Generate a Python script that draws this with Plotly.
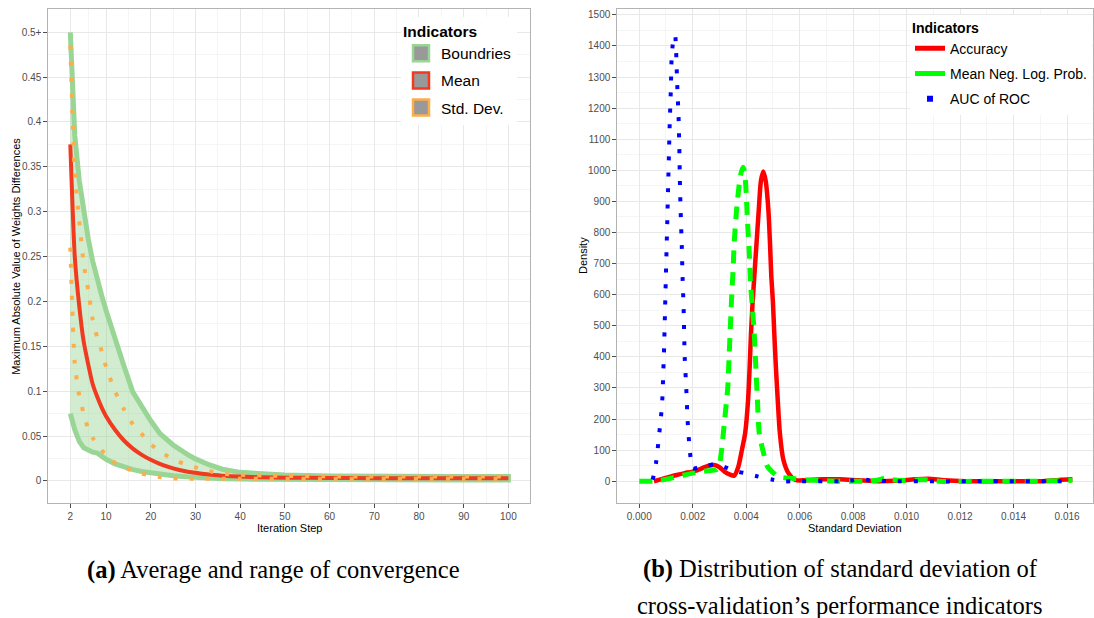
import plotly.graph_objects as go

# ---------------- Panel (a): convergence ----------------
steps = [2, 3, 4, 5, 6, 7, 8, 9, 10, 12, 14, 16, 18, 20, 22, 25, 28, 30, 33, 36, 40, 45, 50, 60, 70, 80, 90, 100]
upper = [0.500, 0.385, 0.335, 0.300, 0.270, 0.245, 0.224, 0.207, 0.190, 0.158, 0.128, 0.099, 0.082, 0.067, 0.053,
         0.040, 0.030, 0.0245, 0.018, 0.013, 0.0095, 0.0075, 0.0065, 0.0055, 0.005, 0.005, 0.005, 0.005]
lower = [0.075, 0.057, 0.044, 0.037, 0.034, 0.032, 0.031, 0.027, 0.024, 0.019, 0.0155, 0.0125, 0.0105, 0.009, 0.0075,
         0.0058, 0.0045, 0.004, 0.003, 0.0025, 0.002, 0.0015, 0.0012, 0.001, 0.001, 0.001, 0.001, 0.001]
mean = [0.375, 0.250, 0.195, 0.155, 0.130, 0.108, 0.094, 0.082, 0.072, 0.057, 0.045, 0.036, 0.029, 0.0235, 0.019,
        0.014, 0.0105, 0.009, 0.007, 0.0058, 0.0048, 0.004, 0.0036, 0.0033, 0.003, 0.003, 0.003, 0.003]
sd_hi = [0.485, 0.344, 0.290, 0.242, 0.213, 0.180, 0.160, 0.145, 0.127, 0.100, 0.080, 0.063, 0.052, 0.041, 0.033,
         0.024, 0.018, 0.015, 0.011, 0.008, 0.0068, 0.006, 0.0055, 0.005, 0.005, 0.005, 0.005, 0.005]
sd_lo = [0.260, 0.131, 0.095, 0.075, 0.058, 0.048, 0.040, 0.034, 0.029, 0.020, 0.015, 0.011, 0.008, 0.006, 0.0042,
         0.0028, 0.0025, 0.0025, 0.0025, 0.0025, 0.0025, 0.0025, 0.0025, 0.0025, 0.0025, 0.0025, 0.0025, 0.0025]
a_xticks = [2, 10, 20, 30, 40, 50, 60, 70, 80, 90, 100]
a_xminor = [6, 15, 25, 35, 45, 55, 65, 75, 85, 95]
a_yticks = [0, 0.05, 0.1, 0.15, 0.2, 0.25, 0.3, 0.35, 0.4, 0.45, 0.5]
a_ytext = ["0", "0.05", "0.1", "0.15", "0.2", "0.25", "0.3", "0.35", "0.4", "0.45", "0.5+"]
a_yminor = [0.025, 0.075, 0.125, 0.175, 0.225, 0.275, 0.325, 0.375, 0.425, 0.475]
a_names = ["Boundries", "Mean", "Std. Dev."]

# ---------------- Panel (b): densities ----------------
acc_x = [0.00055, 0.0008, 0.0011, 0.0014, 0.0017, 0.0020, 0.0023, 0.0026, 0.0028, 0.0030, 0.0032, 0.0034, 0.00355,
         0.0037, 0.00384, 0.00396, 0.00407, 0.00413, 0.00418, 0.00424, 0.00432, 0.00439, 0.00447, 0.00455, 0.00464,
         0.00473, 0.00483, 0.00489, 0.00494, 0.0050, 0.00505, 0.00511, 0.00518, 0.00526, 0.00539, 0.00558, 0.00584,
         0.0062, 0.0068, 0.0075, 0.0082, 0.0090, 0.0097, 0.0103, 0.0108, 0.0114, 0.0122, 0.0135, 0.0150, 0.0157, 0.0162]
acc_y = [0, 6, 13, 20, 26, 31, 40, 50, 52, 45, 30, 21, 18,
         45, 101, 154, 261, 368, 476, 575, 680, 770, 872, 965, 996,
         965, 872, 765, 658, 575, 476, 368, 261, 154, 69, 26, 4,
         3, 6, 6, 3, 0, 2, 6, 8, 3, 0, 0, 0, 4, 6]

mnlp_x = [0.0, 0.0005, 0.0008, 0.0012, 0.0016, 0.0020, 0.0024, 0.0027, 0.0029, 0.0030, 0.00308, 0.00318, 0.00325,
          0.00331, 0.00336, 0.00341, 0.00346, 0.00351, 0.00355, 0.00364, 0.0037, 0.00379, 0.00388, 0.00394, 0.00399,
          0.00405, 0.00412, 0.00416, 0.00423, 0.0043, 0.00436, 0.00442, 0.00449, 0.00465, 0.0048, 0.0052, 0.0056,
          0.0062, 0.0068, 0.0075, 0.0085, 0.0089, 0.0092, 0.0095, 0.0099, 0.0104, 0.0107, 0.0112, 0.0130, 0.0150, 0.0162]
mnlp_y = [0, 0, 3, 10, 18, 26, 32, 35, 38, 55, 100, 185, 245,
          300, 400, 500, 600, 680, 765, 872, 925, 985, 1010, 995, 941,
          834, 726, 640, 560, 476, 368, 261, 154, 90, 47, 15, 10,
          5, 2, 0, 0, 3, 10, 5, 2, 4, 5, 0, 0, 0, 3]

auc_x = [0.0005, 0.00054, 0.00063, 0.00071, 0.00077, 0.00083, 0.00087, 0.00089, 0.00091, 0.00093, 0.00096, 0.00099,
         0.00102, 0.00105, 0.00108, 0.00111, 0.00114, 0.00118, 0.00121, 0.00127, 0.00134, 0.00138, 0.00142, 0.00147,
         0.0015, 0.00152, 0.00155, 0.00159, 0.00162, 0.00166, 0.0017, 0.00176, 0.00181, 0.0019, 0.002, 0.00225, 0.0025,
         0.0028, 0.0030, 0.0033, 0.00355, 0.0039, 0.00412, 0.0044, 0.00471, 0.0050, 0.0053, 0.0060, 0.0075, 0.0080,
         0.00826, 0.0086, 0.0095, 0.0120, 0.0161]
auc_y = [5, 18, 60, 120, 171, 223, 274, 326, 377, 429, 532, 636,
         739, 841, 944, 1048, 1151, 1254, 1357, 1415, 1435, 1380, 1277, 1174,
         1071, 968, 865, 761, 658, 555, 401, 298, 195, 92, 42, 44, 48,
         55, 53, 42, 33, 27, 22, 16, 10, 5, 0, 0, 0, 3,
         8, 3, 0, 0, 0]
b_xticks = [0.000, 0.002, 0.004, 0.006, 0.008, 0.010, 0.012, 0.014, 0.016]
b_xminor = [0.001, 0.003, 0.005, 0.007, 0.009, 0.011, 0.013, 0.015]
b_yticks = list(range(0, 1501, 100))
b_yminor = list(range(50, 1501, 100))
b_names = ["Accuracy", "Mean Neg. Log. Prob.", "AUC of ROC"]

# ---------------- styling ----------------
GREEN_A = "#99d594"
GREEN_FILL = "rgba(153,213,148,0.45)"
RED_A = "#f03b20"
ORANGE_A = "#fdae4b"
SANS = "Liberation Sans, Arial, sans-serif"
TICKFONT = dict(family=SANS, size=10, color="#4d4d4d")

fig = go.Figure()

# Panel (a) traces
fig.add_trace(go.Scatter(
    x=steps + steps[::-1], y=upper + lower[::-1], mode="lines", fill="toself",
    fillcolor=GREEN_FILL, line=dict(color=GREEN_A, width=5), showlegend=False,
    xaxis="x", yaxis="y", hoverinfo="skip"))
fig.add_trace(go.Scatter(x=steps, y=mean, mode="lines", line=dict(color=RED_A, width=4, shape="spline", smoothing=0.6),
                         showlegend=False, xaxis="x", yaxis="y"))
for sd in (sd_hi, sd_lo):
    fig.add_trace(go.Scatter(x=steps, y=sd, mode="lines",
                             line=dict(color=ORANGE_A, width=4, dash="4px,12px", shape="spline", smoothing=0.6),
                             showlegend=False, xaxis="x", yaxis="y"))
# legend keys for (a)
for name, col in zip(a_names, [GREEN_A, RED_A, ORANGE_A]):
    fig.add_trace(go.Scatter(x=[None], y=[None], mode="markers", name=name,
                             marker=dict(symbol="square", size=16, color="#999999", line=dict(color=col, width=2.5)),
                             legend="legend", legendgroup=name, xaxis="x", yaxis="y"))

# Panel (b) traces
fig.add_trace(go.Scatter(x=acc_x, y=acc_y, mode="lines",
                         line=dict(color="#ff0000", width=4.5, shape="spline", smoothing=0.7),
                         showlegend=False, xaxis="x2", yaxis="y2"))
fig.add_trace(go.Scatter(x=mnlp_x, y=mnlp_y, mode="lines",
                         line=dict(color="#00ff00", width=5, dash="13px,9px", shape="spline", smoothing=0.7),
                         showlegend=False, xaxis="x2", yaxis="y2"))
fig.add_trace(go.Scatter(x=auc_x, y=auc_y, mode="lines",
                         line=dict(color="#0000ff", width=4, dash="4px,12px", shape="spline", smoothing=0.7),
                         showlegend=False, xaxis="x2", yaxis="y2"))
# legend keys for (b)
fig.add_trace(go.Scatter(x=[None], y=[None], mode="lines", name=b_names[0], line=dict(color="#ff0000", width=5),
                         legend="legend2", legendgroup="b1", xaxis="x2", yaxis="y2"))
fig.add_trace(go.Scatter(x=[None], y=[None], mode="lines", name=b_names[1], line=dict(color="#00ff00", width=5),
                         legend="legend2", legendgroup="b2", xaxis="x2", yaxis="y2"))
fig.add_trace(go.Scatter(x=[None], y=[None], mode="markers", name=b_names[2],
                         marker=dict(symbol="square", size=6, color="#0000ff"),
                         legend="legend2", legendgroup="b3", xaxis="x2", yaxis="y2"))

W, H = 1094, 618
def px(x):
    return x / W
def py(y):
    return 1 - y / H

ydom = [py(503.3), py(9.3)]
common = dict(showline=True, mirror=True, linecolor="#b3b3b3", linewidth=1, ticks="outside", ticklen=4,
              tickcolor="#4d4d4d", tickwidth=1, showgrid=True, gridcolor="#e8e8e8", gridwidth=1, zeroline=False,
              tickfont=TICKFONT)

fig.update_layout(
    width=W, height=H, margin=dict(l=0, r=0, t=0, b=0),
    paper_bgcolor="white", plot_bgcolor="white",
    xaxis=dict(domain=[px(48.4), px(530.3)], range=[-2.9, 104.9], tickmode="array", tickvals=a_xticks,
               minor=dict(tickmode="array", tickvals=a_xminor, showgrid=True, gridcolor="#f5f5f5", ticks=""),
               anchor="y", **common),
    yaxis=dict(domain=ydom, range=[-0.025, 0.5256], tickmode="array", tickvals=a_yticks, ticktext=a_ytext,
               minor=dict(tickmode="array", tickvals=a_yminor, showgrid=True, gridcolor="#f5f5f5", ticks=""),
               anchor="x", **common),
    xaxis2=dict(domain=[px(617.3), px(1093.3)], range=[-0.00082, 0.01698], tickmode="array", tickvals=b_xticks,
                tickformat=".3f",
                minor=dict(tickmode="array", tickvals=b_xminor, showgrid=True, gridcolor="#f5f5f5", ticks=""),
                anchor="y2", **common),
    yaxis2=dict(domain=ydom, range=[-71, 1518], tickmode="array", tickvals=b_yticks,
                minor=dict(tickmode="array", tickvals=b_yminor, showgrid=True, gridcolor="#f5f5f5", ticks=""),
                anchor="x2", **common),
    legend=dict(x=px(401), y=py(16.5), xanchor="left", yanchor="top", bgcolor="white", borderwidth=0,
                title=dict(text="<b>Indicators</b>", font=dict(size=15.5, color="black")),
                font=dict(family=SANS, size=15.5, color="black"),
                traceorder="grouped", tracegroupgap=4, itemwidth=30),
    legend2=dict(x=px(910), y=py(14.5), xanchor="left", yanchor="top", bgcolor="white", borderwidth=0,
                 title=dict(text="<b>Indicators</b>", font=dict(size=14, color="black")),
                 font=dict(family=SANS, size=14, color="black"),
                 traceorder="grouped", tracegroupgap=4, itemwidth=30),
    font=dict(family=SANS),
)

AXT = dict(family=SANS, size=11, color="black")
SERIF = dict(family="Liberation Serif, Times New Roman, serif", size=24.5, color="black")
annos = [
    dict(x=px(289.3), y=py(527.5), text="Iteration Step", font=AXT),
    dict(x=px(855.3), y=py(527.5), text="Standard Deviation", font=AXT),
    dict(x=px(15.8), y=py(256), text="Maximum Absolute Value of Weights Differences", font=AXT, textangle=-90),
    dict(x=px(583), y=py(256), text="Density", font=AXT, textangle=-90),
    dict(x=px(273), y=py(570), text="<b>(a)</b> Average and range of convergence", font=SERIF),
    dict(x=px(840), y=py(568.5), text="<b>(b)</b> Distribution of standard deviation of", font=SERIF),
    dict(x=px(839), y=py(605.5), text="cross-validation’s performance indicators", font=SERIF),
]
for a in annos:
    a.update(xref="paper", yref="paper", showarrow=False, xanchor="center", yanchor="middle")
    fig.add_annotation(**a)

fig.write_html("out.html", config={"displayModeBar": False},
               post_script="document.body.style.margin='0px';document.body.style.overflow='hidden';")
